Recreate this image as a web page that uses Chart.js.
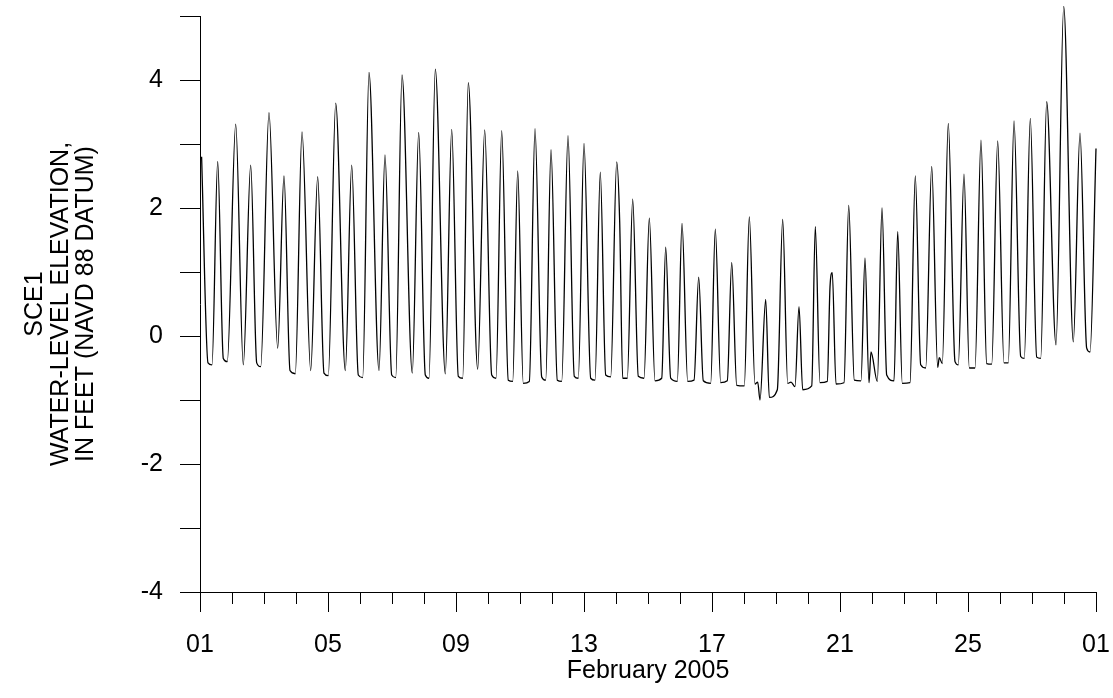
<!DOCTYPE html>
<html>
<head>
<meta charset="utf-8">
<script src="https://cdn.jsdelivr.net/npm/chart.js@4"></script>
<style>
    body { margin: 0; background: #fff; }
    #wrap { width: 1113px; height: 698px; }
</style>
</head>
<body>
<div id="wrap"><canvas id="chart"></canvas></div>
<script>
// time in days since 01 Feb 2005 00:00, water level in feet
const days = [
    0.05, 0.25, 0.375, 0.553, 0.728, 0.853, 1.116, 1.353, 1.584, 1.772, 1.897,
    2.156, 2.428, 2.625, 2.813, 2.978, 3.188, 3.459, 3.678, 3.875, 4.009,
    4.241, 4.541, 4.741, 4.947, 5.084, 5.281, 5.594, 5.781, 5.991, 6.116,
    6.313, 6.634, 6.834, 7.041, 7.156, 7.353, 7.666, 7.866, 8.072, 8.209,
    8.384, 8.678, 8.897, 9.116, 9.25, 9.428, 9.634, 9.772, 9.928, 10.103,
    10.291, 10.469, 10.678, 10.803, 10.969, 11.166, 11.303, 11.5, 11.697, 11.822,
    12.0, 12.209, 12.344, 12.509, 12.678, 12.834, 13.022, 13.116, 13.209, 13.353,
    13.522, 13.697, 13.875, 14.041, 14.219, 14.428, 14.553, 14.709, 14.916, 15.063,
    15.241, 15.438, 15.584, 15.728, 15.959, 16.103, 16.272, 16.478, 16.616, 16.772,
    17.009, 17.166, 17.344, 17.428, 17.5, 17.678, 17.791, 18.041, 18.209, 18.366,
    18.469, 18.594, 18.719, 18.834, 19.116, 19.228, 19.375, 19.603, 19.688, 19.759,
    19.875, 20.125, 20.272, 20.447, 20.656, 20.781, 20.906, 20.969, 21.166, 21.313,
    21.459, 21.688, 21.803, 21.947, 22.188, 22.353, 22.522, 22.678, 22.866, 23.053,
    23.103, 23.197, 23.384, 23.594, 23.697, 23.875, 24.041, 24.219, 24.406, 24.584,
    24.741, 24.928, 25.125, 25.259, 25.438, 25.647, 25.759, 25.947, 26.147, 26.272,
    26.459, 26.75, 26.991, 27.291, 27.5, 27.709, 27.813, 28.0
];
const levelFt = [
    2.80, -0.42, -0.45, 2.73, -0.35, -0.40, 3.31, -0.45, 2.67, -0.42, -0.48,
    3.49, -0.19, 2.50, -0.54, -0.59, 3.19, -0.54, 2.49, -0.58, -0.62,
    3.64, -0.54, 2.67, -0.61, -0.65, 4.12, -0.54, 2.83, -0.61, -0.65,
    4.08, -0.58, 3.18, -0.61, -0.66, 4.17, -0.59, 3.23, -0.63, -0.66,
    3.96, -0.52, 3.22, -0.61, -0.66, 3.21, -0.69, -0.71, 2.58, -0.74,
    -0.71, 3.24, -0.64, -0.69, 2.91, -0.69, -0.71, 3.13, -0.63, -0.66,
    3.01, -0.66, -0.69, 2.56, -0.61, -0.64, 2.72, 1.77, -0.66, -0.66,
    2.14, -0.63, -0.66, 1.84, -0.70, -0.66, 1.39, -0.66, -0.71, 1.76,
    -0.71, -0.69, 0.92, -0.70, -0.74, 1.67, -0.73, -0.70, 1.15, -0.77,
    -0.78, 1.86, -0.75, -0.72, -1.00, 0.57, -0.96, -0.84, 1.82, -0.74,
    -0.72, -0.79, 0.46, -0.84, -0.78, 1.71, -0.73, -0.71, 0.77, 0.99,
    -0.75, -0.73, 2.04, -0.69, -0.70, 1.22, -0.73, -0.25, -0.71, 2.00,
    -0.61, -0.70, 1.63, -0.74, -0.73, 2.50, -0.45, -0.50, 2.65, -0.49,
    -0.34, -0.43, 3.32, -0.40, -0.45, 2.53, -0.50, -0.50, 3.06, -0.43,
    -0.44, 3.05, -0.42, -0.42, 3.36, -0.32, -0.35, 3.40, -0.33, -0.35,
    3.66, -0.14, 5.15, -0.09, 3.17, -0.19, -0.25, 2.93
];

// labelled ticks every 4 days (last one is 01 March)
const tickDays = [0, 4, 8, 12, 16, 20, 24, 28];
const tickLabels = ['01', '05', '09', '13', '17', '21', '25', '01'];
const yLabelled = [-4, -2, 0, 2, 4];

const font = {family: "'Liberation Sans', Arial, sans-serif", size: 25};

const ctx = document.querySelector('#chart').getContext('2d');
const chart = new Chart(ctx, {
    type: 'line',
    data: {
        datasets: [{
            label: 'SCE1',
            data: days.map((d, i) => ({x: d, y: levelFt[i]})),
            borderColor: '#000',
            borderWidth: 1.3,
            pointRadius: 0,
            cubicInterpolationMode: 'monotone',
            clip: false
        }]
    },
    options: {
        responsive: true,
        maintainAspectRatio: false,
        animation: false,
        layout: {
            padding: {top: 16, right: 17, left: 0, bottom: 0}
        },
        plugins: {
            legend: {display: false},
            tooltip: {enabled: false}
        },
        scales: {
            x: {
                type: 'linear',
                min: 0,
                max: 28,
                afterFit: s => {
                    s.height = 106;
                    s.paddingLeft = 0;
                    s.paddingRight = 0;
                },
                grid: {
                    drawOnChartArea: false,
                    drawTicks: true,
                    tickLength: 20,
                    tickColor: '#000',
                    tickWidth: 1,
                    // short ticks for the days in between
                    tickBorderDash: c => (c.tick && tickDays.includes(c.tick.value)) ? [] : [11, 40]
                },
                border: {display: true, color: '#000', width: 1},
                ticks: {
                    stepSize: 1,
                    autoSkip: false,
                    maxRotation: 0,
                    padding: 18,
                    color: '#000',
                    font: font,
                    callback: v => {
                        const k = tickDays.indexOf(v);
                        return k >= 0 ? tickLabels[k] : '';
                    }
                },
                title: {
                    display: true,
                    text: 'February 2005',
                    color: '#000',
                    font: font,
                    padding: {top: 0, bottom: 12}
                }
            },
            y: {
                min: -4,
                max: 5,
                afterFit: s => {
                    s.width = 200;
                    s.paddingTop = 0;
                    s.paddingBottom = 0;
                },
                grid: {
                    drawOnChartArea: false,
                    drawTicks: true,
                    tickLength: 20,
                    tickColor: '#000',
                    tickWidth: 1
                },
                border: {display: true, color: '#000', width: 1},
                ticks: {
                    stepSize: 1,
                    autoSkip: false,
                    padding: 17,
                    color: '#000',
                    font: font,
                    callback: v => yLabelled.includes(v) ? v : ''
                },
                title: {
                    display: true,
                    text: ['SCE1', 'WATER-LEVEL ELEVATION,', 'IN FEET (NAVD 88 DATUM)'],
                    color: '#000',
                    font: {family: font.family, size: 25, lineHeight: 1.03},
                    padding: {top: 22, bottom: 0}
                }
            }
        }
    }
});
</script>
</body>
</html>
